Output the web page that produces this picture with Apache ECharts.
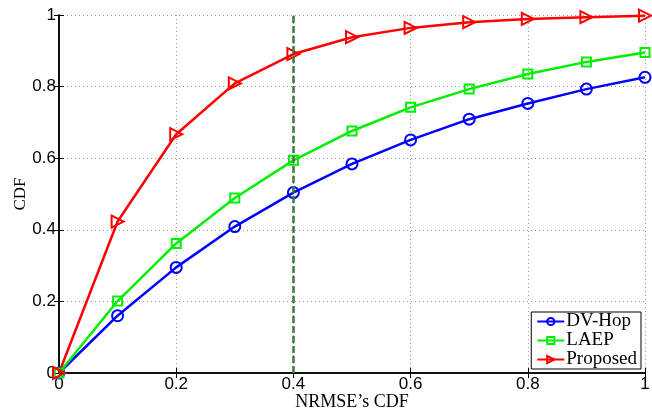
<!DOCTYPE html>
<html>
<head>
<meta charset="utf-8">
<script src="https://cdn.jsdelivr.net/npm/echarts@6/dist/echarts.min.js"></script>
<style>
html,body{margin:0;padding:0;background:#fff;}
#chart{width:652px;height:412px;}
</style>
</head>
<body>
<div id="chart"></div>
<script>
var xValues = [0, 0.1, 0.2, 0.3, 0.4, 0.5, 0.6, 0.7, 0.8, 0.9, 1.0];
var dvHop   = [0, 0.160, 0.295, 0.409, 0.504, 0.584, 0.651, 0.709, 0.753, 0.793, 0.826];
var laep    = [0, 0.201, 0.362, 0.489, 0.594, 0.676, 0.742, 0.793, 0.835, 0.869, 0.895];
var proposed= [0, 0.423, 0.667, 0.809, 0.891, 0.938, 0.964, 0.980, 0.989, 0.994, 0.998];
var seriesNames = ['DV-Hop', 'LAEP', 'Proposed'];
var markX = 0.4;

function pairs(ys){ return xValues.map(function(x,i){ return [x, ys[i]]; }); }

var chart = echarts.init(document.getElementById('chart'));
var serif = '"Liberation Serif", "DejaVu Serif", serif';
var sans = '"Liberation Sans", Arial, sans-serif';

function mkSeries(name, data, color, symbol, size){
  return {
    name: name, type: 'line', data: pairs(data),
    symbol: symbol, symbolSize: size, showAllSymbol: true,
    lineStyle: {color: color, width: 2.5},
    itemStyle: {color: 'rgba(255,255,255,0)', borderColor: color, borderWidth: 2},
    emphasis: {disabled: true},
    z: 3
  };
}

var triRight = 'path://M0,0 L10,5 L0,10 Z';

var option = {
  animation: false,
  grid: {left: 59, right: 7, top: 15, bottom: 39, outerBoundsMode: 'none', containLabel: false},
  legend: {
    right: 11, bottom: 43, orient: 'vertical',
    itemGap: 0, itemWidth: 27, itemHeight: 9,
    padding: [0, 4, 0, 5],
    backgroundColor: '#fff', borderColor: '#000', borderWidth: 1,
    textStyle: {fontFamily: serif, fontSize: 19, lineHeight: 18, color: '#000', padding: [0,0,0,-3]},
    data: seriesNames
  },
  xAxis: [{
    type: 'value', min: 0, max: 1, interval: 0.2,
    name: 'NRMSE\u2019s CDF', nameLocation: 'middle', nameGap: 20, nameMoveOverlap: false,
    nameTextStyle: {fontFamily: serif, fontSize: 18, color: '#000'},
    axisLine: {lineStyle: {color: '#000', width: 1.5}},
    axisTick: {inside: true, length: 5, lineStyle: {color: '#000'}},
    axisLabel: {fontFamily: sans, fontSize: 17, color: '#000', margin: 3,
      formatter: function(v){ return String(+v.toFixed(1)); }},
    splitLine: {show: true, lineStyle: {color: '#999', type: [1, 3], width: 1}}
  }, {
    type: 'value', min: 0, max: 1, interval: 0.2, position: 'top',
    axisLine: {show: true, lineStyle: {color: '#000', width: 1.5}},
    axisTick: {inside: true, length: 5, lineStyle: {color: '#000'}},
    axisLabel: {show: false}, splitLine: {show: false}
  }],
  yAxis: [{
    type: 'value', min: 0, max: 1, interval: 0.2,
    name: 'CDF', nameLocation: 'middle', nameGap: 30, nameMoveOverlap: false,
    nameTextStyle: {fontFamily: serif, fontSize: 17, color: '#000'},
    axisLine: {show: true, lineStyle: {color: '#000', width: 1.5}},
    axisTick: {show: true, inside: true, length: 5, lineStyle: {color: '#000'}},
    axisLabel: {fontFamily: sans, fontSize: 17, color: '#000', margin: 3,
      formatter: function(v){ return String(+v.toFixed(1)); }},
    splitLine: {show: true, lineStyle: {color: '#999', type: [1, 3], width: 1}}
  }, {
    type: 'value', min: 0, max: 1, interval: 0.2, position: 'right',
    axisLine: {show: true, lineStyle: {color: '#000', width: 1.5}},
    axisTick: {show: true, inside: true, length: 5, lineStyle: {color: '#000'}},
    axisLabel: {show: false}, splitLine: {show: false}
  }],
  series: [
    mkSeries('DV-Hop', dvHop, '#0000ff', 'circle', 11),
    mkSeries('LAEP', laep, '#00ee00', 'rect', 9),
    Object.assign(mkSeries('Proposed', proposed, '#ff0000', triRight, 12), {
      markLine: {
        silent: true, symbol: 'none', label: {show: false},
        lineStyle: {color: '#3e7a3e', type: [7, 3], width: 2.5},
        data: [{xAxis: markX}]
      }
    })
  ]
};
chart.setOption(option);
</script>
</body>
</html>
